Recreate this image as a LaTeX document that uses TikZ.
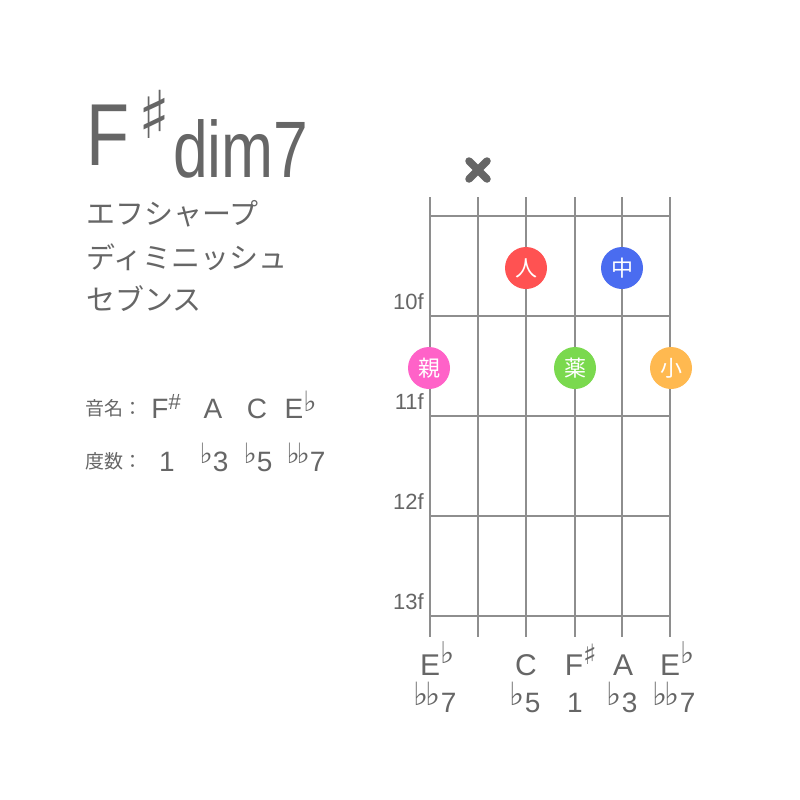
\documentclass[tikz,border=0pt]{standalone}
\usepackage{fontspec}
\setmainfont{Liberation Sans}
\newfontfamily\jpfont{Noto Sans CJK JP}
\newfontfamily\symfont{DejaVu Sans}
\usetikzlibrary{positioning}

\definecolor{txtgray}{HTML}{666666}
\definecolor{linegray}{HTML}{8E8E8E}
\definecolor{dotred}{HTML}{FF5252}
\definecolor{dotblue}{HTML}{4A6CF0}
\definecolor{dotpink}{HTML}{FF62C8}
\definecolor{dotgreen}{HTML}{7AD94E}
\definecolor{dotorange}{HTML}{FFB950}

\newcommand{\fsize}[1]{\fontsize{#1}{#1}\selectfont}
\newcommand{\bflat}[2]{\raisebox{#2pt}{\fsize{#1}\symfont ♭}}
\newcommand{\bsharp}[2]{\raisebox{#2pt}{\fsize{#1}\symfont ♯}}

\tikzset{
  gridline/.style={draw=linegray, line width=1.2pt},
  fingerdot/.style={circle, minimum size=42pt, inner sep=0pt, text=white, font=\jpfont\fsize{22}},
  fretlabel/.style={anchor=base east, text=txtgray, font=\fsize{22}, inner sep=0pt},
  notename/.style={anchor=base, text=txtgray, font=\fsize{30}, inner sep=0pt},
  degree/.style={anchor=base, text=txtgray, font=\fsize{28}, inner sep=0pt},
  kana/.style={anchor=base west, text=txtgray, font=\jpfont\fsize{29}, inner sep=0pt},
  infolabel/.style={anchor=base west, text=txtgray, font=\jpfont\fsize{19}, inner sep=0pt},
  infonote/.style={anchor=base, text=txtgray, font=\fsize{28}, inner sep=0pt}
}

\begin{document}
\begin{tikzpicture}[x=1pt, y=-1pt]
\useasboundingbox[fill=white] (0,0) rectangle (800,800);

% title
\node[anchor=base west, inner sep=0pt, text=txtgray, font=\fsize{88}] (root) at (86,165) {\scalebox{0.8}[1]{F}};
\node[anchor=base west, inner sep=0pt, text=txtgray] (rootsharp) at (138,138) {\bsharp{66}{0}};
\node[anchor=base west, inner sep=0pt, text=txtgray, font=\fsize{80}] (quality) at (173,177) {\scalebox{0.78}[1]{dim7}};

% reading
\node[kana] (read1) at (86,224) {エフシャープ};
\node[kana] (read2) at (86,268) {ディミニッシュ};
\node[kana] (read3) at (86,310) {セブンス};

% notes and degrees
\node[infolabel] (notelabel) at (85,415) {音名：};
\node[infonote] (n1) at (160,418) {F\rlap{\raisebox{9pt}{\fsize{22}\#}}};
\node[infonote] (n2) at (213,418) {A};
\node[infonote] (n3) at (257,418) {C};
\node[infonote] (n4) at (294,418) {E\rlap{\bflat{28}{7}}};
\node[infolabel] (degreelabel) at (85,468) {度数：};
\node[infonote] (g1) at (167,471) {1};
\node[infonote] (g2) at (214,471) {\bflat{28}{8}3};
\node[infonote] (g3) at (258,471) {\bflat{28}{8}5};
\node[infonote] (g4) at (306,471) {\bflat{28}{8}\kern-3pt\bflat{28}{8}7};

% fretboard
\foreach \x in {430,478,526,575,622,670}
  \draw[gridline] (\x,197) -- (\x,637);
\foreach \y in {216,316,416,516,616}
  \draw[gridline] (430,\y) -- (670,\y);

\foreach \y/\f in {316/10,416/11,516/12,616/13}
  \node[fretlabel] at (424,\y-7) {\f f};

% muted string
\draw[txtgray, line width=7.5pt, line cap=round] (469,161) -- (487,179) (469,179) -- (487,161);

% fingers
\node[fingerdot, fill=dotred] (hito) at (526,268) {人};
\node[fingerdot, fill=dotblue] (naka) at (622,268) {中};
\node[fingerdot, fill=dotpink] (oya) at (429,368) {親};
\node[fingerdot, fill=dotgreen] (kusuri) at (575,368) {薬};
\node[fingerdot, fill=dotorange] (ko) at (671,368) {小};

% string names
\node[notename] (s1) at (430,675) {E\rlap{\bflat{30}{12}}};
\node[notename] (s3) at (526,675) {C};
\node[notename] (s4) at (574,675) {F\rlap{\bsharp{28}{11}}};
\node[notename] (s5) at (623,675) {A};
\node[notename] (s6) at (670,675) {E\rlap{\bflat{30}{12}}};
\node[degree] (t1) at (435,712) {\bflat{32}{7}\kern-3pt\bflat{32}{7}7};
\node[degree] (t3) at (525,712) {\bflat{32}{7}5};
\node[degree] (t4) at (575,712) {1};
\node[degree] (t5) at (622,712) {\bflat{32}{7}3};
\node[degree] (t6) at (674,712) {\bflat{32}{7}\kern-3pt\bflat{32}{7}7};
\end{tikzpicture}
\end{document}
